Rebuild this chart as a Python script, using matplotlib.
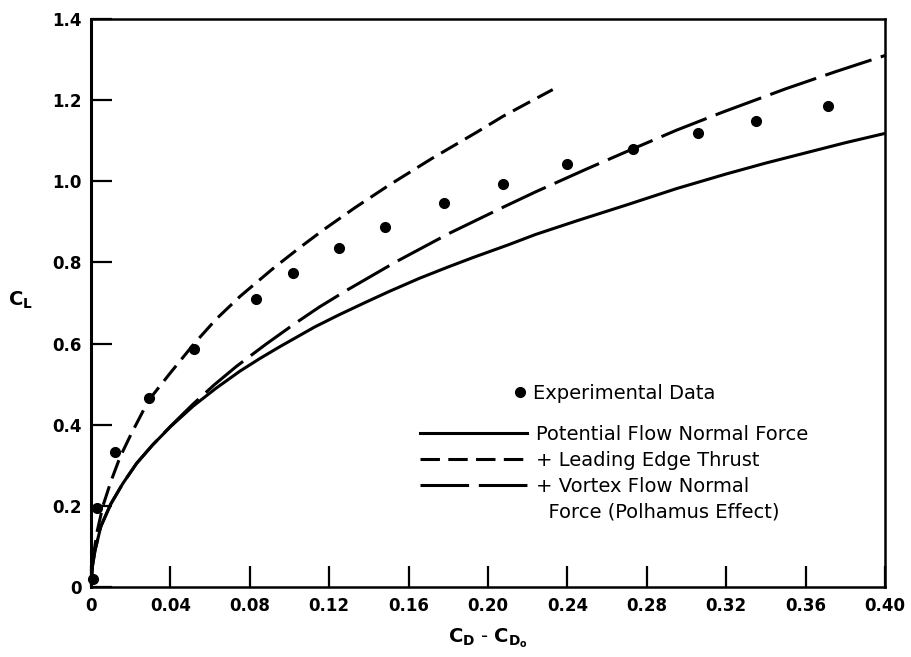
import numpy as np
import matplotlib
matplotlib.use("Agg")
import matplotlib.pyplot as plt
from matplotlib.lines import Line2D

plt.rcParams['font.family'] = ['DejaVu Sans']
plt.rcParams['lines.scale_dashes'] = False
plt.rcParams['mathtext.fontset'] = 'custom'
plt.rcParams['mathtext.rm'] = 'DejaVu Sans:bold'
plt.rcParams['mathtext.it'] = 'DejaVu Sans:bold'
plt.rcParams['mathtext.bf'] = 'DejaVu Sans:bold'

# experimental points
exp_cd = [0.001, 0.003, 0.012, 0.029, 0.052, 0.083, 0.102, 0.125, 0.148,
          0.178, 0.2075, 0.240, 0.273, 0.3056, 0.335, 0.3713]
exp_cl = [0.021, 0.195, 0.332, 0.467, 0.586, 0.709, 0.775, 0.835, 0.888,
          0.946, 0.993, 1.043, 1.079, 1.118, 1.149, 1.186]

# potential flow normal force (solid)
pot_cd = [0, 0.0005, 0.002, 0.005, 0.01, 0.016, 0.023, 0.031, 0.04, 0.0515,
          0.063, 0.075, 0.085, 0.095, 0.1127, 0.125, 0.138, 0.15, 0.1655,
          0.18, 0.1924, 0.21, 0.224, 0.245, 0.27, 0.295, 0.32, 0.34, 0.36,
          0.38, 0.40]
pot_cl = [0, 0.045, 0.09, 0.15, 0.205, 0.255, 0.305, 0.35, 0.395, 0.446,
          0.49, 0.532, 0.563, 0.592, 0.641, 0.671, 0.701, 0.728, 0.761,
          0.789, 0.812, 0.843, 0.869, 0.903, 0.942, 0.982, 1.018, 1.045, 1.070,
          1.095, 1.118]

# + leading edge thrust (short dash)
let_cd = [0, 0.001, 0.003, 0.006, 0.01, 0.0146, 0.02, 0.029, 0.04, 0.052,
          0.063, 0.075, 0.0917, 0.105, 0.117, 0.133, 0.150, 0.172, 0.194,
          0.2075, 0.22, 0.2326]
let_cl = [0, 0.07, 0.135, 0.2, 0.26, 0.32, 0.375, 0.46, 0.528, 0.600,
          0.66, 0.716, 0.785, 0.836, 0.88, 0.935, 0.99, 1.057, 1.12,
          1.16, 1.193, 1.226]

# + vortex flow normal force (long dash)
vor_cd = [0, 0.0005, 0.002, 0.005, 0.01, 0.016, 0.023, 0.031, 0.04, 0.051,
          0.062, 0.0733, 0.088, 0.1026, 0.115, 0.1287, 0.1538, 0.1806, 0.208,
          0.224, 0.25, 0.273, 0.295, 0.318, 0.35, 0.375, 0.40]
vor_cl = [0, 0.045, 0.09, 0.15, 0.205, 0.255, 0.305, 0.35, 0.396, 0.449,
          0.498, 0.544, 0.598, 0.649, 0.690, 0.731, 0.802, 0.872, 0.937,
          0.974, 1.031, 1.080, 1.126, 1.170, 1.228, 1.270, 1.310]

xticks = [0, 0.04, 0.08, 0.12, 0.16, 0.20, 0.24, 0.28, 0.32, 0.36, 0.40]
xticklabels = ['0', '0.04', '0.08', '0.12', '0.16', '0.20', '0.24', '0.28',
               '0.32', '0.36', '0.40']
yticks = [0, 0.2, 0.4, 0.6, 0.8, 1.0, 1.2, 1.4]
yticklabels = ['0', '0.2', '0.4', '0.6', '0.8', '1.0', '1.2', '1.4']

lw = 2.2
short_dash = (0, (14, 6))
long_dash = (0, (35, 7))

fig = plt.figure(figsize=(9.12, 6.57), dpi=100)
ax = fig.add_axes([0.0998, 0.1065, 0.8706, 0.8646])

ax.plot(pot_cd, pot_cl, color='black', lw=lw, solid_capstyle='butt')
ax.plot(let_cd, let_cl, color='black', lw=lw, ls=short_dash)
ax.plot(vor_cd, vor_cl, color='black', lw=lw, ls=long_dash)
ax.plot(exp_cd, exp_cl, 'o', color='black', ms=7, clip_on=False, zorder=5)

ax.set_xlim(0, 0.40)
ax.set_ylim(0, 1.4)
ax.set_xticks(xticks)
ax.set_xticklabels(xticklabels)
ax.set_yticks(yticks)
ax.set_yticklabels(yticklabels)
ax.tick_params(direction='in', length=15, width=1.6, labelsize=12, pad=7)
for lab in ax.get_xticklabels() + ax.get_yticklabels():
    lab.set_fontweight('bold')
for sp in ax.spines.values():
    sp.set_linewidth(1.8)
ax.spines['left'].set_linewidth(2.2)

ax.set_xlabel(r'$\mathrm{C_D}$ - $\mathrm{C_{D_o}}$', fontsize=14, labelpad=8.5)
ax.set_ylabel(r'$\mathrm{C_L}$', fontsize=14, rotation=0, va='center')
ax.yaxis.set_label_coords(-0.089, 0.505)

# legend, in two blocks
h_exp = Line2D([], [], color='black', marker='o', ms=7, ls='none')
leg1 = ax.legend([h_exp], ['Experimental Data'], loc='upper left',
                 bbox_to_anchor=(0.528, 0.358), frameon=False, fontsize=14,
                 handlelength=1.0, handletextpad=0.15, borderpad=0,
                 borderaxespad=0, numpoints=1)
ax.add_artist(leg1)

h_pot = Line2D([], [], color='black', lw=lw)
h_let = Line2D([], [], color='black', lw=lw, ls=short_dash)
h_vor = Line2D([], [], color='black', lw=lw, ls=long_dash)
h_blank = Line2D([], [], ls='none')
ax.legend([h_pot, h_let, h_vor, h_blank],
          ['Potential Flow Normal Force', '+ Leading Edge Thrust',
           '+ Vortex Flow Normal', '  Force (Polhamus Effect)'],
          loc='upper left', bbox_to_anchor=(0.414, 0.285), frameon=False,
          fontsize=14, handlelength=5.5, handletextpad=0.5, borderpad=0,
          borderaxespad=0, labelspacing=0.35)

fig.savefig('out.png', dpi=100)
